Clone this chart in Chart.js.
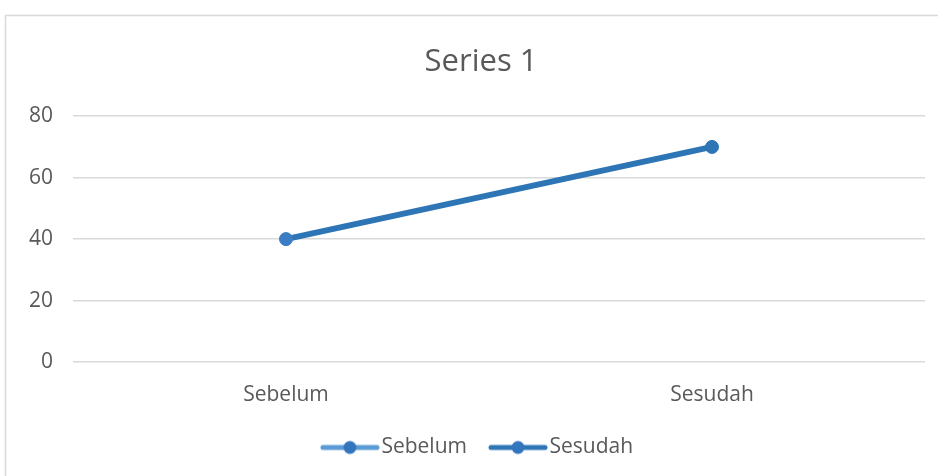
<!DOCTYPE html>
<html>
<head>
<meta charset="utf-8">
<script src="https://cdn.jsdelivr.net/npm/chart.js@4"></script>
<style>
  html, body { margin: 0; padding: 0; background: #fff; }
  #wrap { width: 938px; height: 476px; position: relative; }
</style>
</head>
<body>
<div id="wrap"><canvas id="chart" width="938" height="476"></canvas></div>
<script>
const categories = ["Sebelum", "Sesudah"];
const seriesName = "Series 1";
const values = [40, 70];
const yTicks = [0, 20, 40, 60, 80];

const legendLineColors = ["#5b9bd5", "#2e75b6"];
const textColor = "#595959";
const font = "'Open Sans', 'Noto Sans', sans-serif";

// little line + dot image used as the legend symbol
function legendSymbol(lineColor) {
  const c = document.createElement("canvas");
  c.width = 60;
  c.height = 16;
  const g = c.getContext("2d");
  g.strokeStyle = lineColor;
  g.lineWidth = 5;
  g.lineCap = "round";
  g.beginPath();
  g.moveTo(3, 8);
  g.lineTo(57, 8);
  g.stroke();
  g.fillStyle = "#3476be";
  g.beginPath();
  g.arc(30, 8, 6.5, 0, Math.PI * 2);
  g.fill();
  return c;
}

const frame = {
  id: "frame",
  beforeDraw(chart) {
    const ctx = chart.ctx;
    ctx.save();
    ctx.fillStyle = "#fff";
    ctx.fillRect(0, 0, chart.width, chart.height);
    ctx.strokeStyle = "#d9d9d9";
    ctx.lineWidth = 1.5;
    ctx.strokeRect(5.5, 15.5, chart.width + 10, chart.height + 10);
    ctx.restore();
  },
};

new Chart(document.getElementById("chart"), {
  type: "line",
  data: {
    labels: categories,
    datasets: [
      {
        label: seriesName,
        data: values,
        borderColor: "#2e75b6",
        borderWidth: 6,
        pointRadius: 6.5,
        pointBackgroundColor: ["#3a7dc4", "#2e75b6"],
        pointBorderColor: ["#3a7dc4", "#2e75b6"],
        pointBorderWidth: 1,
        tension: 0,
      },
    ],
  },
  options: {
    responsive: false,
    animation: false,
    layout: { padding: { left: 24, right: 0, top: 0, bottom: 8 } },
    plugins: {
      title: {
        display: true,
        text: seriesName,
        color: textColor,
        font: { family: font, size: 31, weight: "normal" },
        padding: { top: 44, bottom: 35 },
      },
      legend: {
        position: "bottom",
        labels: {
          color: textColor,
          font: { family: font, size: 21 },
          usePointStyle: true,
          pointStyleWidth: 42,
          padding: 30,
          generateLabels: () =>
            categories.map((name, i) => ({
              text: name,
              pointStyle: legendSymbol(legendLineColors[i]),
              fontColor: textColor,
              datasetIndex: 0,
              index: i,
            })),
        },
      },
      tooltip: { enabled: false },
    },
    scales: {
      x: {
        offset: true,
        afterFit: (scale) => {
          scale.height = 45;
        },
        grid: { display: false },
        border: { display: false },
        ticks: { color: textColor, font: { family: font, size: 21 }, padding: 12 },
      },
      y: {
        min: 0,
        max: 80,
        afterBuildTicks: (scale) => {
          scale.ticks = yTicks.map((v) => ({ value: v }));
        },
        afterFit: (scale) => {
          scale.width = 49;
        },
        grid: { color: "#d9d9d9", lineWidth: 1.5, drawTicks: false },
        border: { display: false },
        ticks: { color: textColor, font: { family: font, size: 21 }, padding: 20 },
      },
      // empty right-hand gap so the plot ends where the reference's does
      gap: {
        position: "right",
        afterFit: (scale) => {
          scale.width = 13;
        },
        grid: { display: false },
        border: { display: false },
        ticks: { display: false },
      },
    },
  },
  plugins: [frame],
});
</script>
</body>
</html>
